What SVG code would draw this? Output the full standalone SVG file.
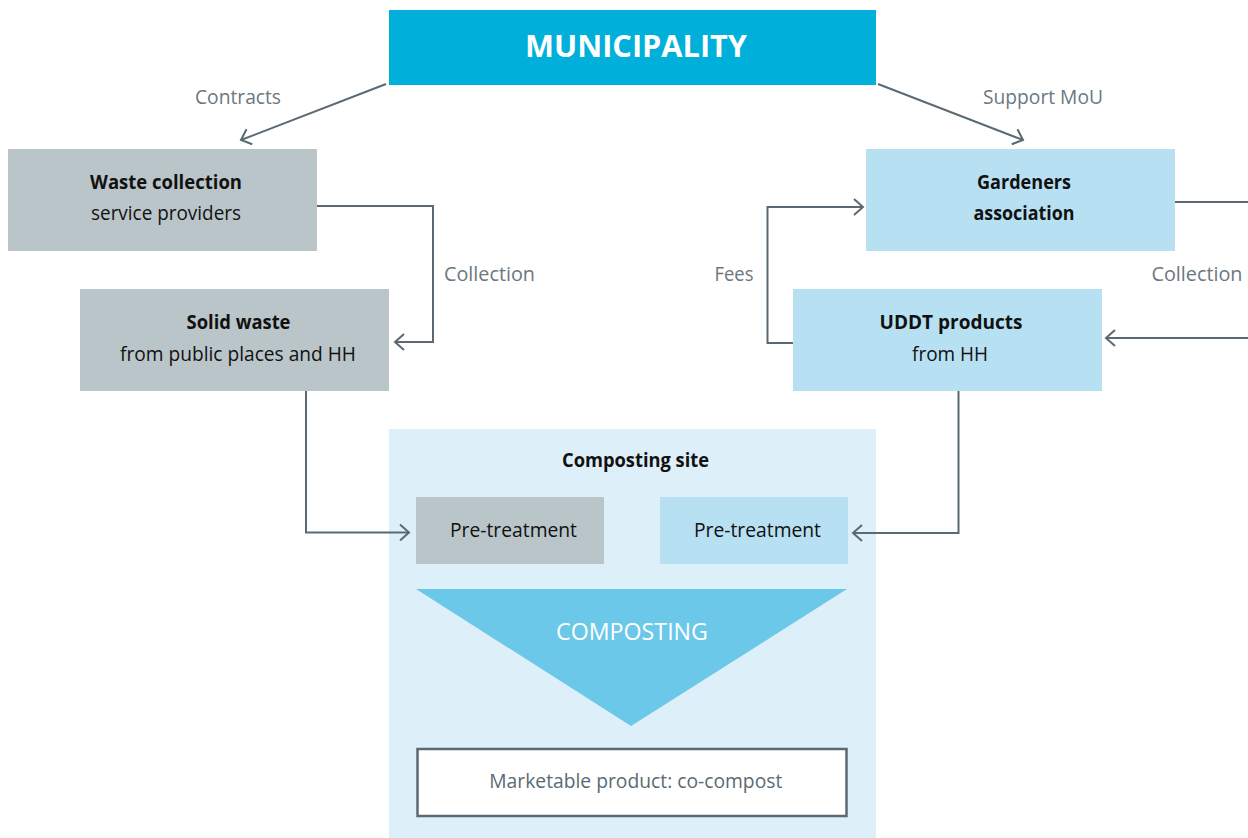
<svg xmlns="http://www.w3.org/2000/svg" width="1248" height="838" viewBox="0 0 1248 838">
  <defs>
    <style>
      text { font-family: "Open Sans", "Noto Sans", "DejaVu Sans", sans-serif; }
      .label { font-size: 19.5px; fill: #6b7880; }
      .title { font-size: 19.5px; font-weight: bold; fill: #111; text-anchor: middle; }
      .body { font-size: 19.5px; fill: #111; text-anchor: middle; }
      .grey { fill: #b9c5c9; }
      .blue { fill: #b7e0f2; }
      .conn { fill: none; stroke: #5b6a72; stroke-width: 2; }
    </style>
    <marker id="arrow" markerUnits="userSpaceOnUse" viewBox="-12 -10 14 20" refX="0" refY="0" markerWidth="14" markerHeight="20" orient="auto">
      <path d="M-9,-8 L0,0 L-9,8" fill="none" stroke="#5b6a72" stroke-width="2"/>
    </marker>
  </defs>

  <rect width="1248" height="838" fill="#ffffff"/>

  <!-- Composting site area -->
  <g id="composting-site">
    <rect x="389" y="429" width="487" height="409" fill="#ddeff8"/>
    <text class="title" x="635.5" y="467" textLength="147" lengthAdjust="spacingAndGlyphs">Composting site</text>
  </g>

  <g id="municipality">
    <rect x="389" y="10" width="487" height="75" fill="#00b0da"/>
    <text x="636" y="56.5" font-size="30" font-weight="bold" fill="#ffffff" text-anchor="middle" textLength="222" lengthAdjust="spacingAndGlyphs">MUNICIPALITY</text>
  </g>

  <g id="waste-collection">
    <rect class="grey" x="8" y="149" width="309" height="102"/>
    <text class="title" x="166" y="189" textLength="152" lengthAdjust="spacingAndGlyphs">Waste collection</text>
    <text class="body" x="166" y="220" textLength="150" lengthAdjust="spacingAndGlyphs">service providers</text>
  </g>

  <g id="solid-waste">
    <rect class="grey" x="80" y="289" width="309" height="102"/>
    <text class="title" x="238.5" y="329" textLength="104" lengthAdjust="spacingAndGlyphs">Solid waste</text>
    <text class="body" x="238" y="361" textLength="236" lengthAdjust="spacingAndGlyphs">from public places and HH</text>
  </g>

  <g id="gardeners">
    <rect class="blue" x="866" y="149" width="309" height="102"/>
    <text class="title" x="1024" y="189" textLength="94" lengthAdjust="spacingAndGlyphs">Gardeners</text>
    <text class="title" x="1024" y="220" textLength="101" lengthAdjust="spacingAndGlyphs">association</text>
  </g>

  <g id="uddt-products">
    <rect class="blue" x="793" y="289" width="309" height="102"/>
    <text class="title" x="951" y="329" textLength="143" lengthAdjust="spacingAndGlyphs">UDDT products</text>
    <text class="body" x="950" y="361" textLength="76" lengthAdjust="spacingAndGlyphs">from HH</text>
  </g>

  <g id="pretreatment-solid">
    <rect class="grey" x="416" y="497" width="188" height="67"/>
    <text class="body" x="513.5" y="536.5" textLength="127" lengthAdjust="spacingAndGlyphs">Pre-treatment</text>
  </g>

  <g id="pretreatment-uddt">
    <rect class="blue" x="660" y="497" width="188" height="67"/>
    <text class="body" x="757.5" y="536.5" textLength="127" lengthAdjust="spacingAndGlyphs">Pre-treatment</text>
  </g>

  <g id="composting">
    <polygon points="416,589 847,589 631,726" fill="#6cc8e8"/>
    <text x="632" y="640" font-size="23" fill="#ffffff" text-anchor="middle" textLength="152" lengthAdjust="spacingAndGlyphs">COMPOSTING</text>
  </g>

  <g id="co-compost">
    <rect x="417.5" y="749" width="429" height="67" fill="#ffffff" stroke="#5b6a72" stroke-width="2.5"/>
    <text x="635.8" y="788" font-size="19.5" fill="#5b6a72" text-anchor="middle" textLength="293" lengthAdjust="spacingAndGlyphs">Marketable product: co-compost</text>
  </g>

  <!-- Connectors -->
  <g id="connectors" class="conn">
    <path class="conn" d="M386,84 L241,140" marker-end="url(#arrow)"/>
    <path class="conn" d="M878,84 L1023,140" marker-end="url(#arrow)"/>
    <path class="conn" d="M317,206 H433 V342 H395" marker-end="url(#arrow)"/>
    <path class="conn" d="M793,343 H767.5 V207 H863" marker-end="url(#arrow)"/>
    <path class="conn" d="M1175,202 H1248"/>
    <path class="conn" d="M1248,338 H1106" marker-end="url(#arrow)"/>
    <path class="conn" d="M306,391 V532.5 H409" marker-end="url(#arrow)"/>
    <path class="conn" d="M958.5,391 V533 H853" marker-end="url(#arrow)"/>
  </g>

  <!-- Connector labels -->
  <g id="connector-labels">
    <text class="label" x="238" y="104" text-anchor="middle" textLength="86" lengthAdjust="spacingAndGlyphs">Contracts</text>
    <text class="label" x="1043" y="104" text-anchor="middle" textLength="120" lengthAdjust="spacingAndGlyphs">Support MoU</text>
    <text class="label" x="444" y="281" textLength="91" lengthAdjust="spacingAndGlyphs">Collection</text>
    <text class="label" x="714.5" y="281" textLength="39" lengthAdjust="spacingAndGlyphs">Fees</text>
    <text class="label" x="1151.5" y="281" textLength="91" lengthAdjust="spacingAndGlyphs">Collection</text>
  </g>
</svg>
